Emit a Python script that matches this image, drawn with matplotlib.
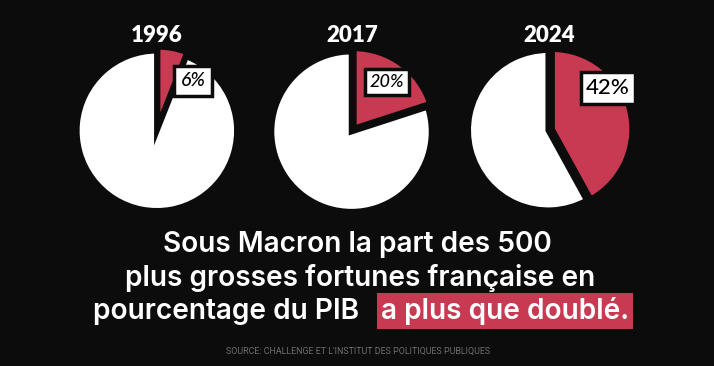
import matplotlib
matplotlib.use("Agg")
import matplotlib.pyplot as plt

years = ["1996", "2017", "2024"]
shares = [6, 20, 42]
labels = ["6%", "20%", "42%"]
title_lines = ["Sous Macron la part des 500", "plus grosses fortunes française en"]
line3_plain = "pourcentage du PIB"
line3_high = "a plus que doublé."
source = "SOURCE: CHALLENGE ET L'INSTITUT DES POLITIQUES PUBLIQUES"

W, H = 714, 366
BG = "#0c0c0c"
RED = "#c73a52"

fig = plt.figure(figsize=(W / 100, H / 100), dpi=100, facecolor=BG)

def fx(px):
    return px / W

def fy(py):
    return 1 - py / H

centers = [(157, 130), (352, 131), (549, 130)]
label_pos = [(193, 81), (387, 82), (608, 88)]
label_size = [14, 13, 16]
label_style = ["italic", "italic", "normal"]
label_pad = [0.35, 0.25, 0.25]
R = 80
half = 100
lim = half / R

for i, (yr, s) in enumerate(zip(years, shares)):
    cx, cy = centers[i]
    ax = fig.add_axes([fx(cx - half), fy(cy + half), 2 * half / W, 2 * half / H])
    ax.set_facecolor("none")
    ax.pie([s, 100 - s], colors=[RED, "white"], startangle=90, counterclock=False,
           explode=[0.04, 0.01], radius=1.0,
           wedgeprops=dict(edgecolor=BG, linewidth=4.0))
    ax.set_xlim(-lim, lim)
    ax.set_ylim(-lim, lim)
    ax.set_aspect("auto")
    ax.axis("off")
    fig.text(fx(cx), fy(36), yr, ha="center", va="center", color="white",
             fontsize=16, fontweight="heavy", family=["Lato", "DejaVu Sans"])
    lx, ly = label_pos[i]
    fig.text(fx(lx), fy(ly), labels[i], ha="center", va="center", color="black",
             fontsize=label_size[i], fontstyle=label_style[i], fontweight="medium",
             family=["Lato", "DejaVu Sans"],
             bbox=dict(boxstyle=f"square,pad={label_pad[i]}", facecolor="white",
                       edgecolor=BG, linewidth=2.5))

tfont = dict(family=["Inter", "DejaVu Sans"], fontsize=20.2, fontweight="semibold",
             color="white")
fig.text(fx(357), fy(252), title_lines[0], ha="center", va="baseline", **tfont)
fig.text(fx(360.5), fy(286), title_lines[1], ha="center", va="baseline", **tfont)
fig.text(fx(359), fy(319), line3_plain, ha="right", va="baseline", **tfont)
fig.text(fx(381), fy(319), line3_high, ha="left", va="baseline",
         bbox=dict(boxstyle="square,pad=0.15", facecolor=RED, edgecolor="none"),
         **tfont)

fig.text(fx(358), fy(351), source, ha="center", va="center", color="#6e6e6e",
         fontsize=6.4, family=["Roboto", "DejaVu Sans"])

fig.savefig("out.png", dpi=100, facecolor=BG)
